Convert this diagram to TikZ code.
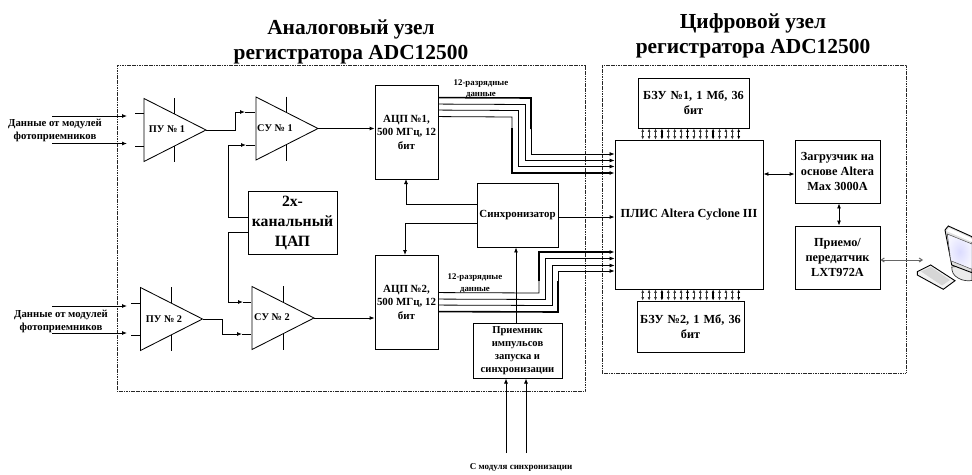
\documentclass[tikz,border=0pt]{standalone}
\usepackage{fontspec}
\setmainfont{Liberation Serif}
\usetikzlibrary{arrows.meta,calc,shapes.geometric}
\tikzset{
  ln/.style={line width=0.85pt,draw=black},
  thin line/.style={line width=0.8pt,draw=black},
  thick line/.style={line width=1.6pt,draw=black},
  arr/.style={-{Latex[length=5pt,width=4pt]}},
  darr/.style={{Latex[length=3.5pt,width=3pt]}-{Latex[length=3.5pt,width=3pt]}},
  dark/.style={{Latex[length=5pt,width=4pt]}-{Latex[length=5pt,width=4pt]}},
  blockbox/.style={draw=black,line width=0.85pt,rectangle,inner sep=0pt,align=center,font=\bfseries\fontsize{12.3}{14.7}\selectfont},
  adcbox/.style={blockbox,font=\bfseries\fontsize{10.9}{13.5}\selectfont},
  amp/.style={draw=black,line width=0.85pt,isosceles triangle,isosceles triangle stretches,shape border rotate=0,minimum width=63pt,minimum height=62pt,inner sep=0pt,outer sep=0pt,anchor=apex},
  amplabel/.style={inner sep=0pt,font=\bfseries\fontsize{10.3}{12}\selectfont},
  frame/.style={draw=black!85,line width=1pt,dash pattern=on 1.2pt off 0.5pt,rectangle,inner sep=0pt},
  title/.style={align=center,inner sep=0pt,font=\bfseries\fontsize{21.4}{25}\selectfont},
  small/.style={align=center,inner sep=0pt,font=\bfseries\fontsize{10.7}{13}\selectfont},
  tiny/.style={align=center,inner sep=0pt,font=\bfseries\fontsize{8.8}{11.5}\selectfont},
}
\begin{document}
\begin{tikzpicture}[x=1pt,y=-1pt]
\useasboundingbox (0,0) rectangle (972,474);
% frames
\node[frame,minimum width=468pt,minimum height=326pt] (fa) at (351,228) {};
\node[frame,minimum width=304pt,minimum height=308pt] (fd) at (754,219) {};
% titles
\node[title] (ta) at (351,41.5) {Аналоговый узел\\регистратора ADC12500};
\node[title] (td) at (753,35.5) {Цифровой узел\\регистратора ADC12500};
% amplifiers
\node[amp] (pu1) at (206,130) {};
\node[amp] (su1) at (318,128.5) {};
\node[amp] (pu2) at (202.5,319) {};
\node[amp] (su2) at (314,318) {};
\node[amplabel] (lpu1) at (167,129) {ПУ № 1};
\node[amplabel] (lsu1) at (275,128.5) {СУ № 1};
\node[amplabel] (lpu2) at (164,319) {ПУ № 2};
\node[amplabel] (lsu2) at (272,317.5) {СУ № 2};
% blocks
\node[adcbox,minimum width=63pt,minimum height=94pt] (adc1) at (406.5,132) {АЦП №1,\\500 МГц, 12\\бит};
\node[adcbox,minimum width=63pt,minimum height=94pt] (adc2) at (406.5,302) {АЦП №2,\\500 МГц, 12\\бит};
\node[blockbox,font=\bfseries\fontsize{10.9}{14}\selectfont,minimum width=81pt,minimum height=64pt] (sync) at (517.5,215) {Синхронизатор};
\node[blockbox,font=\bfseries\fontsize{10.6}{13}\selectfont,minimum width=89pt,minimum height=55pt,line width=1pt] (recv) at (517.5,350.5) {Приемник\\импульсов\\запуска и\\синхронизации};
\node[blockbox,minimum width=89pt,minimum height=63pt,font=\bfseries\fontsize{15.7}{20}\selectfont] (dac) at (292.5,222.5) {2х-\\канальный\\ЦАП};
\node[blockbox,minimum width=148pt,minimum height=149pt] (plis) at (689,214.5) {ПЛИС Altera Cyclone III};
\node[blockbox,minimum width=111pt,minimum height=50pt,text width=105pt] (bzu1) at (693.5,103) {БЗУ №1, 1 Мб, 36\\бит};
\node[blockbox,minimum width=107pt,minimum height=51pt,text width=105pt] (bzu2) at (690.5,326.5) {БЗУ №2, 1 Мб, 36\\бит};
\node[blockbox,minimum width=85pt,minimum height=63pt] (load) at (837.5,171.5) {Загрузчик на\\основе Altera\\Max 3000A};
\node[blockbox,minimum width=85pt,minimum height=63pt] (trx) at (837.5,257.5) {Приемо/\\передатчик\\LXT972A};
% texts
\node[small] (d1) at (55,130.5) {Данные от модулей\\фотоприемников};
\node[small] (d2) at (61,321) {Данные от модулей\\фотоприемников};
\node[tiny] (n1) at (481,89) {12-разрядные\\данные};
\node[tiny] (n2) at (475,283.5) {12-разрядные\\данные};
\node[small,font=\bfseries\fontsize{9}{11}\selectfont] (syn) at (521,467.5) {С модуля синхронизации};
% free ends
\coordinate (i1a) at (52,116); \coordinate (i1b) at (52,143.5);
\coordinate (i2a) at (52,306); \coordinate (i2b) at (52,333);
\coordinate (e1a) at (127,116); \coordinate (e1b) at (127,143.5);
\coordinate (e2a) at (127,306); \coordinate (e2b) at (127,333);
\coordinate (s1) at (506,453); \coordinate (s2) at (526,453);
% input arrows
\foreach \a/\b in {i1a/e1a,i1b/e1b,i2a/e2a,i2b/e2b} \draw[ln,arr] (\a) -- (\b);
% stubs
\foreach \n/\yy/\xx/\up/\dn in {pu1/130/174/113.5/146,su1/128.5/286/112/144.5,pu2/319/171/303/335,su2/318/283/302/334}{
  \draw[ln] (\xx,\yy-32) -- (\xx,\up);
  \draw[ln] (\xx,\dn) -- (\xx,\yy+32);
}
\draw[ln] (135,113) -- (143.5,113); \draw[ln] (135,146) -- (143.5,146);
\draw[ln] (131,303) -- (139.5,303); \draw[ln] (131,335) -- (139.5,335);
% amp chain
\draw[ln,arr] (pu1.apex) -- (235,130) -- (235,112) -- (245,112);
\draw[ln] (245,112) -- (255,112);
\draw[ln,arr] (pu2.apex) -- (222,319) -- (222,334) -- (242,334);
\draw[ln] (242,334) -- (251,334);
\draw[ln,arr] (su1.apex) -- (su1.apex -| adc1.west);
\draw[ln,arr] (su2.apex) -- (su2.apex -| adc2.west);
% DAC
\draw[ln,arr] (dac.west |- 0,217) -- (228,217) -- (228,145) -- (246,145);
\draw[ln] (246,145) -- (255,145);
\draw[ln,arr] (dac.west |- 0,232) -- (228,232) -- (228,302) -- (243,302);
\draw[ln] (243,302) -- (251,302);
% sync
\draw[ln,arr] (sync.west |- 0,204) -- (406,204) -- (406,179);
\draw[ln,arr] (sync.west |- 0,223) -- (405,223) -- (405,255);
\draw[ln,arr] (sync.east |- 0,217) -- (plis.west |- 0,217);
\draw[ln,arr] (recv.north -| 516,0) -- (sync.south -| 516,0);
\draw[ln,arr] (s1) -- (recv.south -| s1);
\draw[ln,arr] (s2) -- (recv.south -| s2);
% ADC1 data
\draw[thick line] ($(adc1.north east)+(0,13)$) -- (531,98) -- (531,129);
\draw[thin line,arr] (531,129) -- (531,154) -- (plis.west |- 0,154);
\draw[thin line,arr] ($(adc1.north east)+(0,19.5)$) -- (525.5,104.5) -- (525.5,160.5) -- (plis.west |- 0,160.5);
\draw[thin line,arr] ($(adc1.north east)+(0,25.5)$) -- (518.5,110.5) -- (518.5,166.5) -- (plis.west |- 0,166.5);
\draw[thin line] ($(adc1.north east)+(0,32)$) -- (512,117) -- (512,128);
\draw[thick line,arr] (512,128) -- (512,173) -- (plis.west |- 0,173);
% ADC2 data
\draw[thin line] ($(adc2.north east)+(0,38)$) -- (539,293) -- (539,281);
\draw[thick line,arr] (539,281) -- (539,252) -- (plis.west |- 0,252);
\draw[thin line,arr] ($(adc2.north east)+(0,44.5)$) -- (545.5,299.5) -- (545.5,258.5) -- (plis.west |- 0,258.5);
\draw[thin line,arr] ($(adc2.north east)+(0,50.5)$) -- (552.5,305.5) -- (552.5,265.5) -- (plis.west |- 0,265.5);
\draw[thick line] ($(adc2.north east)+(0,57)$) -- (558,312) -- (558,281);
\draw[thin line,arr] (558,281) -- (558,271) -- (plis.west |- 0,271);
% memory buses
\foreach \i in {0,...,15}{
  \pgfmathsetmacro{\xx}{642.7+6.4*\i}
  \pgfmathtruncatemacro{\tk}{mod(\i,4)==3 ? 1 : 0}
  \ifnum\tk=1
    \draw[line width=1.4pt,draw=black,darr] (bzu1.south -| \xx,0) -- (plis.north -| \xx,0);
    \draw[line width=1.4pt,draw=black,darr] (plis.south -| \xx,0) -- (bzu2.north -| \xx,0);
  \else
    \draw[line width=0.7pt,draw=black!80,darr] (bzu1.south -| \xx,0) -- (plis.north -| \xx,0);
    \draw[line width=0.7pt,draw=black!80,darr] (plis.south -| \xx,0) -- (bzu2.north -| \xx,0);
  \fi
}
% right side
\draw[ln,dark] (plis.east |- 0,174) -- (load.west |- 0,174);
\draw[ln,dark] (load.south -| 839,0) -- (trx.north -| 839,0);
\coordinate (pc) at (923,260);
\draw[line width=1pt,draw=black!60,{Straight Barb[length=3pt,width=4pt]}-{Straight Barb[length=3pt,width=4pt]}] (trx.east |- pc) -- (pc);
% computer
\fill[black!8,draw=black!80,line width=0.7pt] (951.7,267) .. controls (952,272) and (953,275) .. (958,278) .. controls (963,281) and (968,281) .. (972,280.5) -- (972,265) -- cycle;
\fill[black!12,draw=black,line width=0.9pt] (945,230) -- (948.3,226) -- (972,236.7) -- (972,272.7) -- (951.7,265) -- cycle;
\fill[white,draw=none] (946.5,231) -- (949,228) -- (972,238.5) -- (972,242) -- cycle;
\shade[inner color=blue!14!white,outer color=blue!4!white,draw=black!70,line width=0.5pt] (947.3,234) -- (972,244) -- (972,269.3) -- (950.7,260.7) -- cycle;
\fill[black!5,draw=black,line width=0.9pt] (917.3,271.7) -- (930.7,265) -- (955,280.7) -- (943.3,289.3) -- (917.3,275) -- cycle;
\fill[black!16] (921,271.5) -- (931,267) -- (950,280) -- (942,285.5) -- cycle;
\end{tikzpicture}
\end{document}
